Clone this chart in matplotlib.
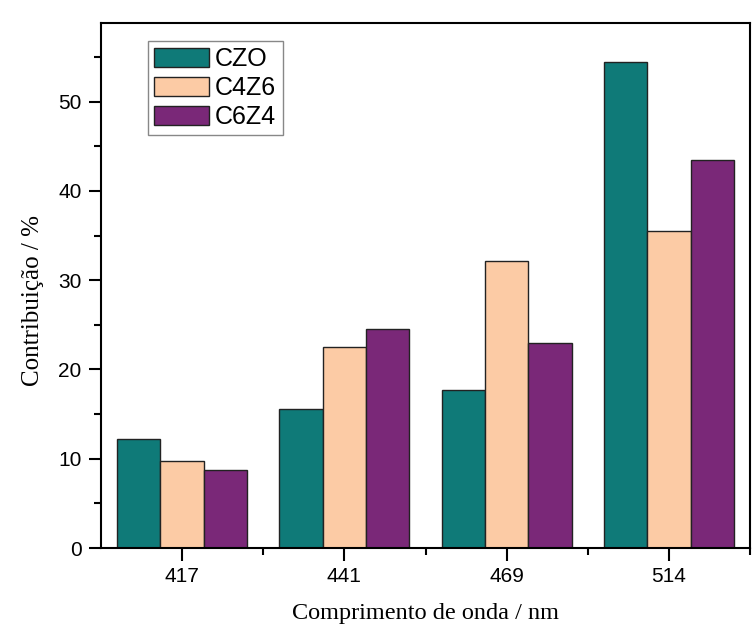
import numpy as np
import matplotlib.pyplot as plt
from matplotlib.ticker import MultipleLocator

wavelengths = ['417', '441', '469', '514']
series = ['CZO', 'C4Z6', 'C6Z4']
czo = [12.26, 15.58, 17.65, 54.42]
c4z6 = [9.69, 22.5, 32.14, 35.5]
c6z4 = [8.79, 24.55, 22.98, 43.43]
colors = ['#0F7A78', '#FCCBA5', '#7A2878']

fig = plt.figure(figsize=(7.55, 6.27), dpi=100)
ax = fig.add_axes([101/755, 1 - 548/627, 649/755, 525/627])

x = np.arange(1, len(wavelengths) + 1)
w = 0.8 / 3
for k, (name, vals) in enumerate(zip(series, [czo, c4z6, c6z4])):
    ax.bar(x + (k - 1) * w, vals, width=w, color=colors[k], edgecolor='#222222',
           linewidth=1.0, label=name, zorder=2)

ax.set_xlim(0.5, 4.5)
ax.set_ylim(0, 58.8)
ax.set_xticks(x)
ax.set_xticklabels(wavelengths, family='Liberation Sans', fontsize=15)
ax.set_xticks(np.arange(1.5, 5, 1), minor=True)
ax.yaxis.set_major_locator(MultipleLocator(10))
ax.yaxis.set_minor_locator(MultipleLocator(5))
for lab in ax.get_yticklabels():
    lab.set_family('Liberation Sans')
    lab.set_fontsize(15)
ax.tick_params(which='major', direction='out', length=9, width=1.5, pad=5)
ax.tick_params(which='minor', direction='out', length=5, width=1.5)
ax.tick_params(axis='y', which='minor', labelleft=False)
for s in ax.spines.values():
    s.set_linewidth(1.5)

ax.set_xlabel('Comprimento de onda / nm', family='Liberation Serif', fontsize=17.5, labelpad=12)
ax.set_ylabel('Contribuição / %', family='Liberation Serif', fontsize=18)
ax.yaxis.set_label_coords(-0.088, 0.472)

leg = ax.legend(loc='upper left', bbox_to_anchor=(0.072, 0.966), borderaxespad=0,
                prop={'family': 'Liberation Sans', 'size': 18}, fancybox=False,
                edgecolor='#888888', framealpha=1, handlelength=2.2, handleheight=0.8,
                labelspacing=0.2, borderpad=0.25, handletextpad=0.25)
leg.get_frame().set_linewidth(1.0)

fig.savefig('out.png', dpi=100)
